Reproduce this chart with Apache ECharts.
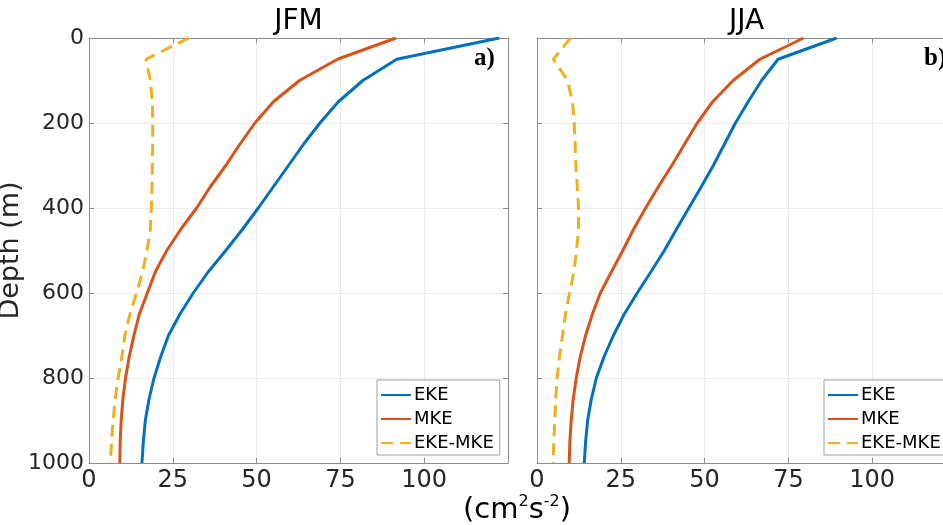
<!DOCTYPE html>
<html>
<head>
<meta charset="utf-8">
<title>EKE / MKE depth profiles</title>
<script src="https://cdn.jsdelivr.net/npm/echarts@6/dist/echarts.min.js"></script>
<style>
  html, body { margin: 0; padding: 0; background: #fff; }
  #chart { width: 943px; height: 525px; }
</style>
</head>
<body>
<div id="chart"></div>
<script>
  // depth levels (m), shared by every profile
  var depths = [0, 50, 100, 150, 200, 250, 300, 350, 400, 450, 500,
    550, 600, 650, 700, 750, 800, 850, 900, 950, 1000];

  // JFM (panel a), cm2 s-2
  var jfmEKE  = [122.4, 91.8, 81.7, 74.4, 68.9, 64.0, 59.5, 55.0, 50.5, 45.8, 40.8,
    35.6, 31.1, 27.1, 23.7, 21.4, 19.4, 17.9, 16.8, 16.2, 15.8];
  var jfmMKE  = [91.6, 74.1, 62.8, 55.0, 49.5, 45.0, 40.8, 36.2, 32.1, 27.4, 23.2,
    19.8, 17.4, 15.0, 13.4, 12.0, 10.9, 10.1, 9.6, 9.3, 9.2];
  var jfmDiff = [29.8, 17.0, 18.3, 18.9, 19.0, 19.0, 18.9, 18.8, 18.6, 18.3, 17.3,
    16.0, 14.2, 12.2, 10.7, 9.8, 8.7, 7.8, 7.2, 6.7, 6.4];

  // JJA (panel b)
  var jjaEKE  = [89.4, 71.9, 67.0, 63.0, 59.2, 55.9, 52.6, 49.0, 45.3, 41.6, 38.0,
    34.0, 29.9, 26.0, 22.8, 20.0, 17.7, 16.2, 15.1, 14.5, 14.1];
  var jjaMKE  = [79.5, 66.5, 58.5, 52.4, 47.8, 44.0, 40.2, 36.2, 32.4, 28.8, 25.6,
    22.2, 18.9, 16.5, 14.5, 12.9, 11.7, 10.8, 10.2, 9.8, 9.6];
  var jjaDiff = [10.0, 4.9, 9.1, 10.6, 11.1, 11.4, 11.6, 12.0, 12.4, 12.4, 11.8,
    11.0, 9.7, 8.5, 7.6, 6.7, 6.0, 5.6, 5.3, 5.0, 4.8];

  var seriesNames = ['EKE', 'MKE', 'EKE-MKE'];
  var panelTitles = ['JFM', 'JJA'];
  var panelTags = ['a)', 'b)'];

  var colors = ['#0072BD', '#D95319', '#EDB120'];
  var FONT = 'DejaVu Sans, Liberation Sans, sans-serif';
  var AXIS_GRAY = '#8c8c8c';
  var TEXT = '#262626';

  // pair every value with its depth: [x = energy, y = depth]
  function profile(values) {
    return values.map(function (v, i) {
      return [v, depths[i]];
    });
  }

  // second panel runs past the right edge of the picture, as in the source figure
  var grids = [
    {left: 89, top: 38, width: 419, height: 425, outerBoundsMode: 'none'},
    {left: 537, top: 38, width: 419, height: 425, outerBoundsMode: 'none'}
  ];

  function xAxisFor(gridIndex, top) {
    return {
      gridIndex: gridIndex,
      type: 'value',
      position: top ? 'top' : 'bottom',
      min: 0,
      max: 125,
      interval: 25,
      axisLine: {show: true, onZero: false, lineStyle: {color: AXIS_GRAY, width: 1}},
      axisTick: {show: true, inside: true, length: 5, lineStyle: {color: AXIS_GRAY}},
      axisLabel: {
        show: !top,
        fontFamily: FONT,
        fontSize: 24,
        color: TEXT,
        margin: 6,
        formatter: function (v) { return v === 125 ? '' : String(v); }
      },
      splitLine: {show: !top, lineStyle: {color: '#ebebeb', width: 1}}
    };
  }

  function yAxisFor(gridIndex, right, labels) {
    return {
      gridIndex: gridIndex,
      type: 'value',
      position: right ? 'right' : 'left',
      inverse: true,
      min: 0,
      max: 1000,
      interval: 200,
      name: (!right && labels) ? 'Depth (m)' : '',
      nameLocation: 'middle',
      nameGap: 27,
      nameTextStyle: {fontFamily: FONT, fontSize: 27, color: TEXT},
      axisLine: {show: true, onZero: false, lineStyle: {color: AXIS_GRAY, width: 1}},
      axisTick: {show: true, inside: true, length: 5, lineStyle: {color: AXIS_GRAY}},
      axisLabel: {
        show: !right && labels,
        fontFamily: FONT,
        fontSize: 22,
        color: TEXT,
        margin: 5,
        formatter: function (v) { return String(v); }
      },
      splitLine: {show: !right, lineStyle: {color: '#ebebeb', width: 1}}
    };
  }

  function lineSeries(name, values, axisIndex, k) {
    return {
      name: name,
      type: 'line',
      xAxisIndex: axisIndex,
      yAxisIndex: axisIndex,
      data: profile(values),
      symbol: 'none',
      showSymbol: false,
      smooth: false,
      silent: true,
      lineStyle: {
        color: colors[k],
        width: 3,
        type: k === 2 ? [12, 7] : 'solid'
      },
      itemStyle: {color: colors[k]},
      z: 3 - k
    };
  }

  function legendFor(left) {
    return {
      data: seriesNames,
      orient: 'vertical',
      left: left,
      top: 380,
      itemWidth: 30,
      itemHeight: 18,
      itemGap: 6,
      padding: [6, 6, 3, 3],
      borderColor: '#a0a0a0',
      borderWidth: 1,
      backgroundColor: '#fff',
      selectedMode: false,
      itemStyle: {opacity: 0},
      textStyle: {fontFamily: FONT, fontSize: 18, color: '#000', padding: [0, 0, 0, -2]}
    };
  }

  var option = {
    backgroundColor: '#fff',
    animation: false,
    title: panelTitles.map(function (t, i) {
      return {
        text: t,
        left: grids[i].left + grids[i].width / 2,
        top: 8,
        padding: 0,
        textAlign: 'center',
        textStyle: {fontFamily: FONT, fontSize: 28, fontWeight: 'normal', color: '#000'}
      };
    }),
    grid: grids,
    xAxis: [xAxisFor(0, false), xAxisFor(0, true), xAxisFor(1, false), xAxisFor(1, true)],
    yAxis: [yAxisFor(0, false, true), yAxisFor(0, true, true), yAxisFor(1, false, false), yAxisFor(1, true, false)],
    legend: [legendFor(377), legendFor(824)],
    series: [
      lineSeries(seriesNames[0], jfmEKE, 0, 0),
      lineSeries(seriesNames[1], jfmMKE, 0, 1),
      lineSeries(seriesNames[2], jfmDiff, 0, 2),
      lineSeries(seriesNames[0], jjaEKE, 2, 0),
      lineSeries(seriesNames[1], jjaMKE, 2, 1),
      lineSeries(seriesNames[2], jjaDiff, 2, 2)
    ],
    graphic: [
      {
        type: 'text',
        left: 474, top: 46,
        style: {text: panelTags[0], fontFamily: 'Liberation Serif, serif', fontSize: 25, fontWeight: 'bold', fill: '#000'}
      },
      {
        type: 'text',
        left: 924, top: 46,
        style: {text: panelTags[1], fontFamily: 'Liberation Serif, serif', fontSize: 25, fontWeight: 'bold', fill: '#000'}
      },
      {
        // shared x-axis unit, centred under both panels
        type: 'text',
        x: 517, y: 493,
        style: {
          text: '{b|(cm}{s|2}{b|s}{s|-2}{b|)}',
          align: 'center',
          verticalAlign: 'top',
          rich: {
            b: {fontFamily: FONT, fontSize: 29, fill: '#000', lineHeight: 34},
            s: {fontFamily: FONT, fontSize: 16, fill: '#000', lineHeight: 34, padding: [0, 0, 16, 0]}
          }
        }
      }
    ]
  };

  var myChart = echarts.init(document.getElementById('chart'));
  myChart.setOption(option);
</script>
</body>
</html>
